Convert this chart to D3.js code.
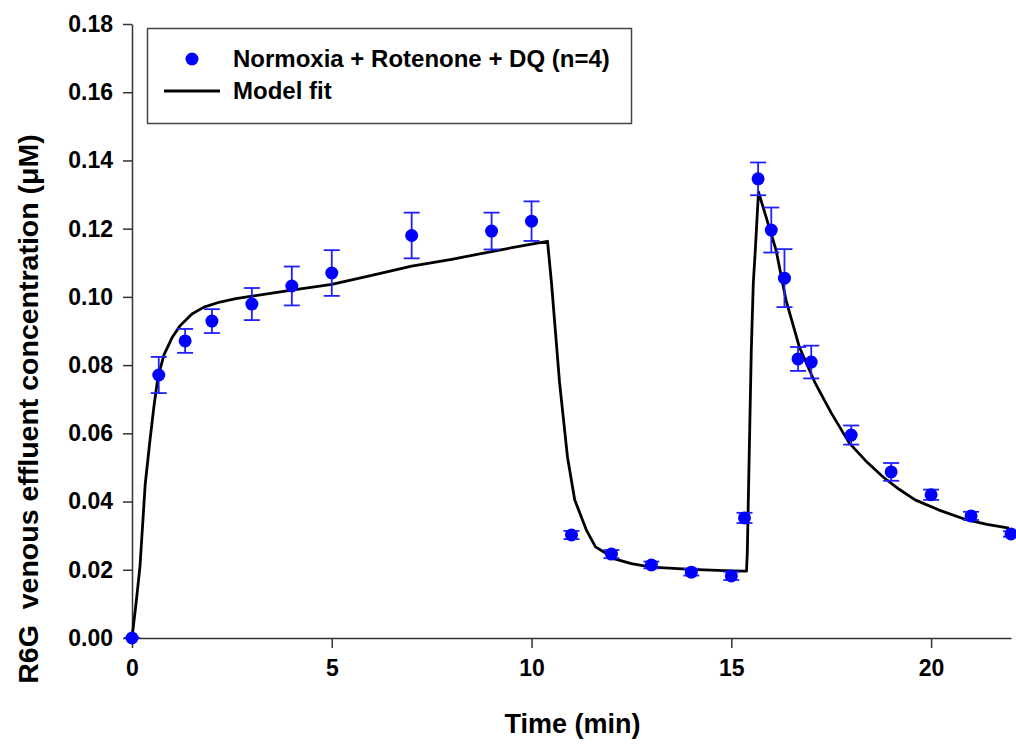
<!DOCTYPE html>
<html>
<head>
<meta charset="utf-8">
<script src="https://cdn.jsdelivr.net/npm/d3@7"></script>
<style>
  body { margin: 0; background: #fff; }
  text { font-family: Arial, "Liberation Sans", sans-serif; font-weight: bold; }
</style>
</head>
<body>
<div id="chart"></div>
<script>
// measured points (mean +/- sem)
const times = [0, 0.67, 1.33, 2, 3, 4, 5, 7, 9, 10, 11, 12, 13, 14, 15, 15.33, 15.67, 16, 16.33, 16.67, 17, 18, 19, 20, 21, 22];
const means = [0, 0.0771, 0.0871, 0.0929, 0.0979, 0.1032, 0.107, 0.118, 0.1193, 0.1222, 0.0302, 0.0246, 0.0214, 0.0193, 0.0182, 0.0352, 0.1346, 0.1196, 0.1055, 0.0818, 0.0809, 0.0595, 0.0487, 0.042, 0.0358, 0.0305];
const sems = [0, 0.0053, 0.0035, 0.0035, 0.0047, 0.0057, 0.0067, 0.0067, 0.0054, 0.0058, 0.0012, 0.0012, 0.001, 0.001, 0.0012, 0.0015, 0.0048, 0.0066, 0.0085, 0.0035, 0.0048, 0.0028, 0.0026, 0.0015, 0.0012, 0.0008];

// model fit curve
const fitT = [0, 0.1, 0.2, 0.33, 0.45, 0.55, 0.65, 0.8, 1.0, 1.2, 1.5, 1.8, 2.2, 2.6, 3, 4, 5, 6, 7, 8, 9, 10, 10.4,
  10.5, 10.7, 10.9, 11.08, 11.37, 11.6, 11.8, 12.1, 12.5, 13, 14, 15, 15.38,
  15.4, 15.45, 15.5, 15.55, 15.6, 15.68, 16.12, 16.37, 16.7, 17.1, 17.5, 17.95, 18.4, 18.8, 19.2, 19.6, 20.2, 20.9, 21.4, 21.95];
const fitV = [0, 0.010, 0.021, 0.045, 0.058, 0.068, 0.0765, 0.083, 0.088, 0.0915, 0.095, 0.097, 0.0985, 0.0995, 0.1002, 0.102, 0.1037, 0.1063, 0.109, 0.111, 0.1133, 0.1155, 0.1163,
  0.104, 0.075, 0.053, 0.0405, 0.0317, 0.0267, 0.0253, 0.0231, 0.0218, 0.0208, 0.0201, 0.0197, 0.0196,
  0.025, 0.055, 0.0844, 0.104, 0.1137, 0.1308, 0.1137, 0.099, 0.0854, 0.0747, 0.066, 0.0572, 0.0515, 0.0472, 0.0436, 0.0405, 0.0375, 0.0346, 0.0333, 0.0322];

const xTicks = [0, 5, 10, 15, 20];
const yTicks = [0, 0.02, 0.04, 0.06, 0.08, 0.10, 0.12, 0.14, 0.16, 0.18];

const width = 1016, height = 744;
const svg = d3.select("#chart").append("svg")
  .attr("width", width).attr("height", height);

const x = d3.scaleLinear().domain([0, 22]).range([132, 1011]);
const y = d3.scaleLinear().domain([0, 0.18]).range([638, 24]);

// axes
const xAxis = svg.append("g")
  .attr("transform", `translate(0,${y(0)})`)
  .call(d3.axisBottom(x).tickValues(xTicks).tickSize(10).tickPadding(8).tickSizeOuter(0).tickFormat(d3.format("d")));
const yAxis = svg.append("g")
  .attr("transform", `translate(${x(0)},0)`)
  .call(d3.axisLeft(y).tickValues(yTicks).tickSize(9).tickPadding(10).tickSizeOuter(0).tickFormat(d3.format(".2f")));

[xAxis, yAxis].forEach(g => {
  g.select(".domain").attr("stroke", "#333").attr("stroke-width", 1.5);
  g.selectAll(".tick line").attr("stroke", "#333").attr("stroke-width", 1.5);
  g.selectAll(".tick text").attr("fill", "#000").style("font-size", "23px").style("font-family", "Arial, 'Liberation Sans', sans-serif").style("font-weight", "bold");
});
xAxis.selectAll(".tick text").attr("dy", "0.85em");

// axis titles
svg.append("text")
  .attr("x", (x(0) + x(22)) / 2 + 1).attr("y", 733)
  .attr("text-anchor", "middle")
  .style("font-size", "27px")
  .text("Time (min)");

svg.append("text")
  .attr("transform", `translate(38,${(y(0) + y(0.18)) / 2 + 78}) rotate(-90)`)
  .attr("text-anchor", "middle")
  .style("font-size", "28.5px")
  .attr("xml:space", "preserve")
  .text("R6G  venous effluent concentration (\u03bcM)");

// model fit
const fit = fitT.map((t, i) => [t, fitV[i]]);
svg.append("path")
  .datum(fit)
  .attr("fill", "none")
  .attr("stroke", "#000")
  .attr("stroke-width", 2.8)
  .attr("stroke-linejoin", "round")
  .attr("d", d3.line().x(d => x(d[0])).y(d => y(d[1])));

// error bars
const pts = times.map((t, i) => ({ t, m: means[i], s: sems[i] }));
const eb = svg.append("g").attr("stroke", "#2020ff").attr("stroke-width", 1.8);
eb.selectAll(".v").data(pts).join("line")
  .attr("x1", d => x(d.t)).attr("x2", d => x(d.t))
  .attr("y1", d => y(d.m - d.s)).attr("y2", d => y(d.m + d.s));
eb.selectAll(".top").data(pts).join("line")
  .attr("x1", d => x(d.t) - 8).attr("x2", d => x(d.t) + 8)
  .attr("y1", d => y(d.m + d.s)).attr("y2", d => y(d.m + d.s));
eb.selectAll(".bot").data(pts).join("line")
  .attr("x1", d => x(d.t) - 8).attr("x2", d => x(d.t) + 8)
  .attr("y1", d => y(d.m - d.s)).attr("y2", d => y(d.m - d.s));

// points
svg.append("g").selectAll("circle").data(pts).join("circle")
  .attr("cx", d => x(d.t)).attr("cy", d => y(d.m))
  .attr("r", 6.5).attr("fill", "#0000ff");

// legend
const lg = svg.append("g");
lg.append("rect").attr("x", 147.5).attr("y", 28.5).attr("width", 484).attr("height", 95)
  .attr("fill", "#fff").attr("stroke", "#444").attr("stroke-width", 1.5);
lg.append("circle").attr("cx", 192).attr("cy", 59).attr("r", 6.5).attr("fill", "#0000ff");
lg.append("line").attr("x1", 164).attr("x2", 220).attr("y1", 91).attr("y2", 91)
  .attr("stroke", "#000").attr("stroke-width", 2.8);
lg.append("text").attr("x", 233).attr("y", 59).attr("dy", "0.35em")
  .style("font-size", "24px").text("Normoxia + Rotenone + DQ (n=4)");
lg.append("text").attr("x", 233).attr("y", 91).attr("dy", "0.35em")
  .style("font-size", "24px").text("Model fit");
</script>
</body>
</html>
